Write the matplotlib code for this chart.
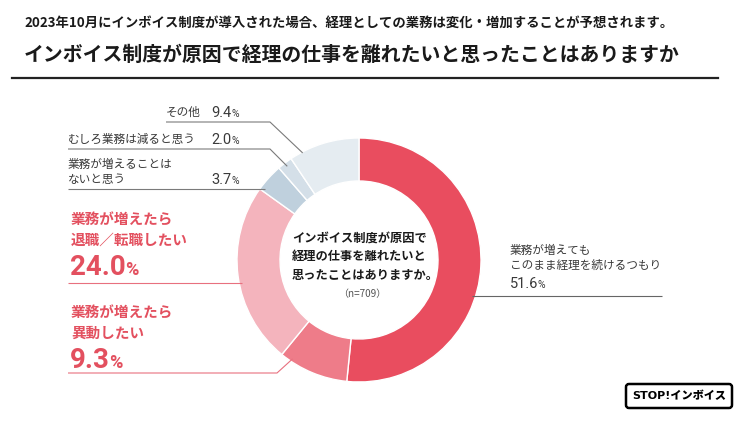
import numpy as np
import matplotlib
matplotlib.use("Agg")
import matplotlib.pyplot as plt
from matplotlib.patches import FancyBboxPatch

# ─────────────────────────────────────────────
#  データ
# ─────────────────────────────────────────────
LABELS = [
    "業務が増えても\nこのまま経理を続けるつもり",
    "業務が増えたら\n異動したい",
    "業務が増えたら\n退職／転職したい",
    "業務が増えることは\nないと思う",
    "むしろ業務は減ると思う",
    "その他",
]
VALUES = [51.6, 9.3, 24.0, 3.7, 2.0, 9.4]
N_RESP = 709

TITLE_SUB = "2023年10月にインボイス制度が導入された場合、経理としての業務は変化・増加することが予想されます。"
TITLE_MAIN = "インボイス制度が原因で経理の仕事を離れたいと思ったことはありますか"
CENTER_TEXT = "インボイス制度が原因で\n経理の仕事を離れたいと\n思ったことはありますか。"
LOGO = "STOP!インボイス"

# ─────────────────────────────────────────────
#  スタイル
# ─────────────────────────────────────────────
W, H = 744, 424
JP = ["Noto Sans CJK JP", "DejaVu Sans"]
NUM = ["Roboto", "DejaVu Sans"]
WEDGE_COLORS = ["#e94d5f", "#ee7c89", "#f4b4bd", "#bfd0dd", "#d4dfe8", "#e5ecf1"]
RED = "#e3505f"
GRAY_TXT = "#3a3a3a"
LINE_GRAY = "#7a7a7a"

CX, CY = 359, 260          # 円の中心（画面座標）
R_OUT, R_IN = 122, 79

fig = plt.figure(figsize=(W / 100, H / 100), dpi=100, facecolor="white")
ax = fig.add_axes([0, 0, 1, 1])

ax.pie(VALUES, colors=WEDGE_COLORS, startangle=90, counterclock=False,
       radius=R_OUT, center=(CX, H - CY),
       wedgeprops=dict(width=R_OUT - R_IN, edgecolor="white", linewidth=1.0))
ax.set_xlim(0, W)
ax.set_ylim(0, H)
ax.set_aspect("auto")
ax.axis("off")
renderer = fig.canvas.get_renderer()


def txt(x, y, s, size, color, weight="normal", family=JP, ha="left", va="center"):
    return ax.text(x, H - y, s, fontsize=size, color=color, fontweight=weight,
                   fontfamily=family, ha=ha, va=va)


def pct(x, y, value, size, psize, color, weight="normal", ha="left"):
    # y = 数字の縦中心、% はベースラインで揃える
    base = y + 0.711 * size * 100 / 72 / 2
    t = txt(x, base, f"{value:.1f}", size, color, weight, family=NUM, ha=ha, va="baseline")
    bb = t.get_window_extent(renderer)
    txt(bb.x1 - 1.0, base, "%", psize, color, weight, family=NUM, va="baseline")


def ring_point(i, frac, r):
    """i 番目のセグメント上の点（画面座標）"""
    cum = np.concatenate([[0], np.cumsum(VALUES)])
    t0 = 90 - 3.6 * cum[i]
    t1 = 90 - 3.6 * cum[i + 1]
    th = np.radians(t0 + frac * (t1 - t0))
    return CX + r * np.cos(th), CY - r * np.sin(th)


def ring_x_at(y, r, side):
    return CX + side * np.sqrt(r ** 2 - (y - CY) ** 2)


def leader(pts, color):
    xs = [p[0] for p in pts]
    ys = [H - p[1] for p in pts]
    ax.plot(xs, ys, color=color, lw=0.8, solid_capstyle="butt", zorder=5)


# ─────────────────────────────────────────────
#  タイトル
# ─────────────────────────────────────────────
txt(24, 23, TITLE_SUB, 9.6, "#1a1a1a", weight="bold")
txt(24, 54, TITLE_MAIN, 14.3, "#1a1a1a", weight="bold")
ax.plot([12, 718], [H - 78, H - 78], color="#222222", lw=1.6)

# ─────────────────────────────────────────────
#  中央テキスト
# ─────────────────────────────────────────────
for k, line in enumerate(CENTER_TEXT.split("\n")):
    txt(292, 238 + 18.5 * k, line, 8.8, "#1a1a1a", weight="bold")
txt(362, 294, f"（n={N_RESP}）", 7.2, "#555555", ha="center")

# ─────────────────────────────────────────────
#  右ラベル（51.6%）
# ─────────────────────────────────────────────
l0 = LABELS[0].split("\n")
txt(510, 250, l0[0], 8.4, GRAY_TXT)
txt(510, 265, l0[1], 8.4, GRAY_TXT)
pct(510, 283, VALUES[0], 10.5, 7.5, GRAY_TXT)
leader([(ring_x_at(296, 119, 1), 296), (662, 296)], "#666666")

# ─────────────────────────────────────────────
#  左ラベル（グレー）
# ─────────────────────────────────────────────
txt(166, 112, LABELS[5], 8.4, GRAY_TXT)
pct(232, 112, VALUES[5], 10.5, 7.5, GRAY_TXT, ha="right")
leader([(166, 122), (270, 122), ring_point(5, 0.18, 121)], LINE_GRAY)

txt(68, 139, LABELS[4], 8.4, GRAY_TXT)
pct(232, 139, VALUES[4], 10.5, 7.5, GRAY_TXT, ha="right")
leader([(68, 149), (270, 149), ring_point(4, 0.5, 118)], LINE_GRAY)

l3 = LABELS[3].split("\n")
txt(68, 164, l3[0], 8.4, GRAY_TXT)
txt(68, 179, l3[1], 8.4, GRAY_TXT)
pct(232, 179, VALUES[3], 10.5, 7.5, GRAY_TXT, ha="right")
leader([(68, 189), (ring_x_at(189, 118, -1), 189)], LINE_GRAY)

# ─────────────────────────────────────────────
#  左ラベル（赤）
# ─────────────────────────────────────────────
l2 = LABELS[2].split("\n")
txt(71, 220, l2[0], 10.5, RED, weight="bold")
txt(71, 240, l2[1], 10.5, RED, weight="bold")
pct(70, 265, VALUES[2], 20, 13, RED, weight="bold")
leader([(68, 283), (ring_x_at(283, 119, -1), 283)], "#e8707f")

l1 = LABELS[1].split("\n")
txt(71, 313, l1[0], 10.5, RED, weight="bold")
txt(71, 333, l1[1], 10.5, RED, weight="bold")
pct(70, 358, VALUES[1], 20, 13, RED, weight="bold")
leader([(68, 373), (277, 373), ring_point(1, 0.84, 119)], "#e8707f")

# ─────────────────────────────────────────────
#  ロゴ
# ─────────────────────────────────────────────
box = FancyBboxPatch((626, H - 408), 106, 24,
                     boxstyle="round,pad=0,rounding_size=3",
                     facecolor="white", edgecolor="black", lw=1.8, zorder=6)
ax.add_patch(box)
txt(679, 396, LOGO, 8, "black", weight="heavy", family=["DejaVu Sans", "Noto Sans CJK JP"],
    ha="center").set_zorder(7)

fig.savefig("out.png", dpi=100, facecolor="white")
